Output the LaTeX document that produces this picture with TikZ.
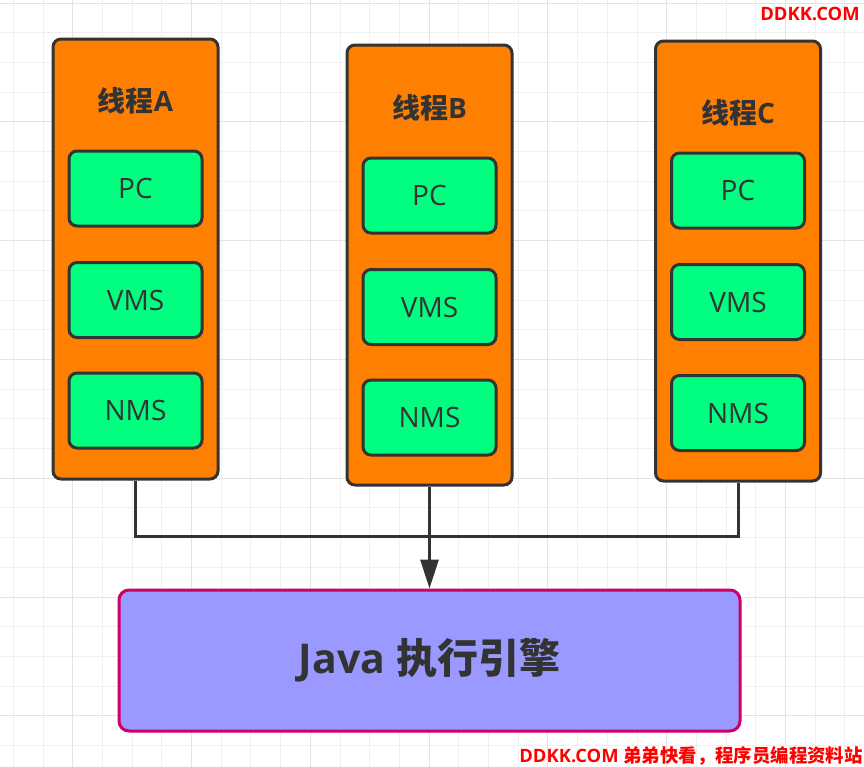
\documentclass[tikz,border=0pt]{standalone}
\usepackage{fontspec}
\setmainfont{Open Sans}
\newfontfamily\cjk{Noto Sans CJK SC}
\usepackage{tikz}
\usetikzlibrary{arrows.meta,positioning,calc}
\definecolor{edge}{HTML}{333333}
\definecolor{thrfill}{HTML}{FF8000}
\definecolor{regfill}{HTML}{00FF80}
\definecolor{engfill}{HTML}{9999FF}
\definecolor{engedge}{HTML}{CC0066}
\definecolor{wmred}{HTML}{FF0000}
\newcommand{\zh}[1]{{\cjk #1}}
\tikzset{
  thrbox/.style={draw=edge, fill=thrfill, line width=1.5pt, rounded corners=4pt, inner sep=0pt,
                 minimum width=82.5pt, minimum height=220pt},
  reg/.style={draw=edge, fill=regfill, line width=1.5pt, rounded corners=4pt, inner sep=0pt,
              minimum width=66.5pt, minimum height=37.5pt, text=edge, font=\fontsize{14}{16}\selectfont},
  ttl/.style={text=edge, font=\fontsize{14}{16}\selectfont\bfseries, inner sep=0pt},
  engbox/.style={draw=engedge, fill=engfill, line width=1.5pt, rounded corners=5pt, inner sep=0pt,
                 minimum width=310.5pt, minimum height=70.5pt, text=edge, font=\fontsize{20.5}{24}\selectfont\bfseries},
  link/.style={draw=edge, line width=1.5pt},
  arr/.style={link, -{Triangle[length=14.5pt, width=9pt]}},
  wmark/.style={text=wmred, font=\fontsize{9.2}{11}\selectfont\bfseries, inner sep=0pt},
  gridln/.style={draw=black!6, line width=0.5pt},
  gridmj/.style={draw=black!11, line width=0.5pt},
}

\begin{document}
\begin{tikzpicture}[x=0.5pt, y=-0.5pt]
    \useasboundingbox (0,0) rectangle (864,767);
    \fill[white] (0,0) rectangle (864,767);
    % background grid
    \foreach \k in {0,...,28} \draw[gridln] ({13.3+29.7*\k},0) -- ({13.3+29.7*\k},767);
    \foreach \k in {0,...,25} \draw[gridln] (0,{3+29.7*\k}) -- (864,{3+29.7*\k});
    \foreach \k in {2,6,...,26} \draw[gridmj] ({13.3+29.7*\k},0) -- ({13.3+29.7*\k},767);
    \foreach \k in {0,4,...,24} \draw[gridmj] (0,{3+29.7*\k}) -- (864,{3+29.7*\k});
    % threads
    \node[thrbox] (thA) at (135.5,259) {};
    \node[thrbox] (thB) at (429.5,265) {};
    \node[thrbox] (thC) at (738,261) {};
    \node[ttl] (tA) at (135.5,100.5) {\zh{线程}A};
    \node[ttl] (tB) at (429.5,108) {\zh{线程}B};
    \node[ttl] (tC) at (738,112.5) {\zh{线程}C};
    \node[reg] (pcA) at (135.5,188.5) {PC};
    \node[reg] (vmsA) at (135.5,300) {VMS};
    \node[reg] (nmsA) at (135.5,410.5) {NMS};
    \node[reg] (pcB) at (429.5,195.5) {PC};
    \node[reg] (vmsB) at (429.5,307) {VMS};
    \node[reg] (nmsB) at (429.5,417.5) {NMS};
    \node[reg] (pcC) at (738,190.5) {PC};
    \node[reg] (vmsC) at (738,302) {VMS};
    \node[reg] (nmsC) at (738,413) {NMS};
    % execution engine
    \node[engbox] (eng) at (429.5,660.5) {Java \zh{执行引擎}};
    \coordinate (join) at (429.5,536);
    \draw[link] (thA.south) -- (thA.south |- join) -- (thC.south |- join) -- (thC.south);
    \draw[arr] (thB.south) -- (eng.north);
    % watermarks
    \node[wmark] (wmtop) at (810,14) {DDKK.COM};
    \node[wmark] (wmbot) at (691,756) {DDKK.COM \zh{弟弟快看，程序员编程资料站}};
  \end{tikzpicture}
\end{document}
